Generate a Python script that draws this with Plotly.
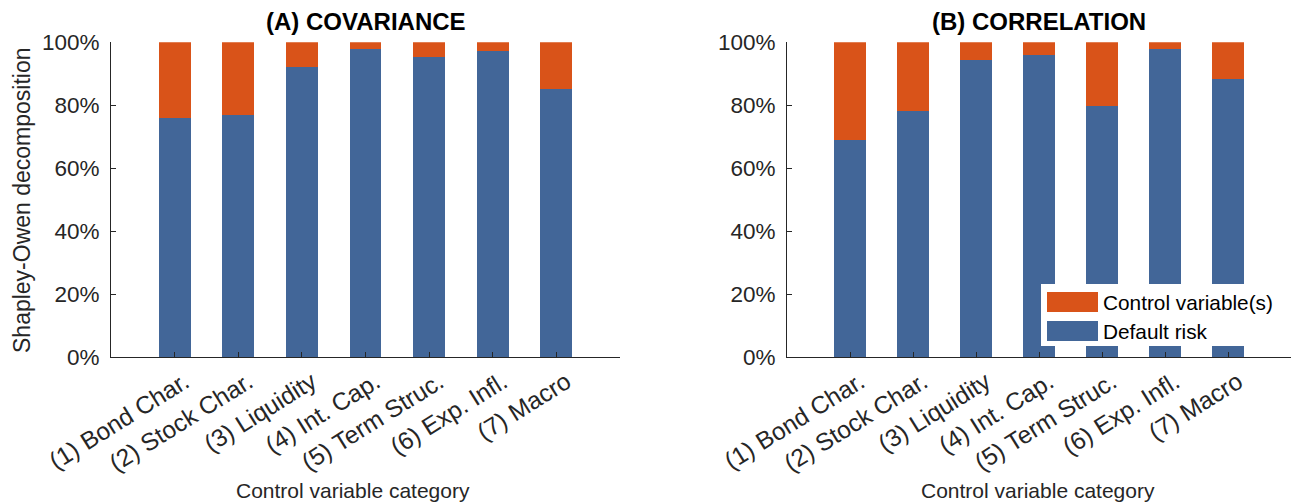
import plotly.graph_objects as go

categories = ["(1) Bond Char.", "(2) Stock Char.", "(3) Liquidity", "(4) Int. Cap.",
              "(5) Term Struc.", "(6) Exp. Infl.", "(7) Macro"]
positions = [1, 2, 3, 4, 5, 6, 7]

cov_default = [76.1, 77.0, 92.3, 97.9, 95.4, 97.1, 85.1]
corr_default = [68.9, 78.2, 94.5, 95.9, 79.7, 97.8, 88.3]
cov_control = [100 - v for v in cov_default]
corr_control = [100 - v for v in corr_default]

y_ticks = [0, 20, 40, 60, 80, 100]
y_ticktext = ["0%", "20%", "40%", "60%", "80%", "100%"]

BLUE = "#426698"
ORANGE = "#D95319"
AX = "#262626"
FONT = "Liberation Sans, Arial, sans-serif"

W, H = 1291, 504
fig = go.Figure()

for xa, ya, d, c in [("x", "y", cov_default, cov_control),
                     ("x2", "y2", corr_default, corr_control)]:
    fig.add_bar(x=positions, y=d, xaxis=xa, yaxis=ya, width=0.5,
                marker=dict(color=BLUE, line=dict(width=0)), name="Default risk",
                showlegend=False)
    fig.add_bar(x=positions, y=c, xaxis=xa, yaxis=ya, width=0.5,
                marker=dict(color=ORANGE, line=dict(width=0)), name="Control variable(s)",
                showlegend=False)

ytop = 1 - 42.3 / H
ybot = 1 - 357.3 / H

def xaxis(dom, anchor):
    return dict(domain=dom, anchor=anchor, range=[0, 8], tickmode="array",
                tickvals=positions, ticktext=categories, tickangle=-32,
                ticks="inside", ticklen=5, tickcolor=AX, showline=True,
                linecolor=AX, linewidth=1, showgrid=False, zeroline=False,
                automargin=False, ticklabelshift=10,
                tickfont=dict(size=24.5, color=AX, family=FONT))

def yaxis(anchor):
    return dict(domain=[ybot, ytop], anchor=anchor, range=[0, 100],
                tickmode="array", tickvals=y_ticks, ticktext=y_ticktext,
                ticks="inside", ticklen=5, tickcolor=AX, showline=True,
                linecolor=AX, linewidth=1, showgrid=False, zeroline=False,
                automargin=False, ticklabelstandoff=6,
                tickfont=dict(size=22.5, color=AX, family=FONT))

fig.update_layout(
    width=W, height=H, margin=dict(l=0, r=0, t=0, b=0, autoexpand=False),
    paper_bgcolor="white", plot_bgcolor="white", barmode="stack",
    showlegend=False,
    xaxis=xaxis([111 / W, 620 / W], "y"),
    yaxis=yaxis("x"),
    xaxis2=xaxis([787 / W, 1.0], "y2"),
    yaxis2=yaxis("x2"),
)

def ann(text, x, y, size, bold=False, angle=0, xanchor="center"):
    return dict(text=f"<b>{text}</b>" if bold else text, x=x / W, y=1 - y / H,
                xref="paper", yref="paper", xanchor=xanchor, yanchor="middle",
                textangle=angle, showarrow=False,
                font=dict(size=size, color=AX if not bold else "black", family=FONT))

annotations = [
    ann("(A) COVARIANCE", (111 + 620) / 2, 22, 24, bold=True),
    ann("(B) CORRELATION", (787 + 1291) / 2, 22, 24, bold=True),
    ann("Shapley-Owen decomposition", 22, 200, 23, angle=-90),
    ann("Control variable category", 353, 490, 21),
    ann("Control variable category", 1038, 490, 21),
]

# legend (manual, MATLAB-style wide swatches)
legend_items = ["Control variable(s)", "Default risk"]
legend_colors = [ORANGE, BLUE]
shapes = [dict(type="rect", xref="paper", yref="paper",
               x0=1041 / W, x1=1287 / W, y0=1 - 346 / H, y1=1 - 284 / H,
               fillcolor="white", line=dict(width=0))]
for i, (lbl, col) in enumerate(zip(legend_items, legend_colors)):
    yc = 302 + i * 29
    shapes.append(dict(type="rect", xref="paper", yref="paper",
                       x0=1047 / W, x1=1098 / W, y0=1 - (yc + 10) / H, y1=1 - (yc - 10) / H,
                       fillcolor=col, line=dict(width=0)))
    a = ann(lbl, 1101, yc, 20.8, xanchor="left")
    a["font"]["color"] = "black"
    annotations.append(a)

fig.update_layout(annotations=annotations, shapes=shapes)
fig.write_html("out.html")
